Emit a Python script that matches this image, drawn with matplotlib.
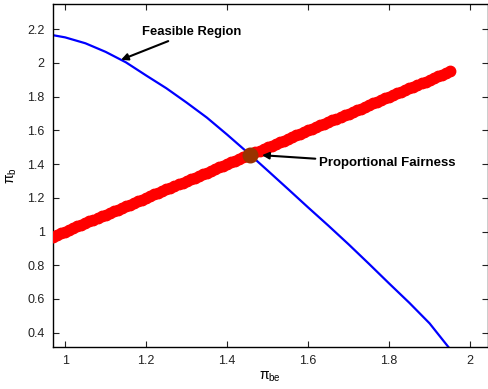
import matplotlib
matplotlib.use('Agg')
import matplotlib.pyplot as plt

plt.rcParams['font.family'] = ['Liberation Sans', 'DejaVu Sans']
plt.rcParams['mathtext.fontset'] = 'custom'
plt.rcParams['mathtext.rm'] = 'Liberation Sans'
plt.rcParams['mathtext.it'] = 'Liberation Sans'

# feasible region boundary
fr_x = [0.970, 1.000, 1.050, 1.100, 1.150, 1.200, 1.250, 1.300, 1.350,
        1.400, 1.450, 1.500, 1.550, 1.600, 1.650, 1.700, 1.750, 1.800,
        1.850, 1.900, 1.947]
fr_y = [2.165, 2.152, 2.117, 2.066, 2.004, 1.926, 1.850, 1.765, 1.676,
        1.575, 1.470, 1.362, 1.253, 1.143, 1.035, 0.924, 0.809, 0.692,
        0.577, 0.455, 0.313]

# equal-share line (dense markers)
eq_x = [0.97, 0.98, 0.99, 1.00, 1.01, 1.02, 1.03, 1.04, 1.05, 1.06,
        1.07, 1.08, 1.09, 1.10, 1.11, 1.12, 1.13, 1.14, 1.15, 1.16,
        1.17, 1.18, 1.19, 1.20, 1.21, 1.22, 1.23, 1.24, 1.25, 1.26,
        1.27, 1.28, 1.29, 1.30, 1.31, 1.32, 1.33, 1.34, 1.35, 1.36,
        1.37, 1.38, 1.39, 1.40, 1.41, 1.42, 1.43, 1.44, 1.45, 1.46,
        1.47, 1.48, 1.49, 1.50, 1.51, 1.52, 1.53, 1.54, 1.55, 1.56,
        1.57, 1.58, 1.59, 1.60, 1.61, 1.62, 1.63, 1.64, 1.65, 1.66,
        1.67, 1.68, 1.69, 1.70, 1.71, 1.72, 1.73, 1.74, 1.75, 1.76,
        1.77, 1.78, 1.79, 1.80, 1.81, 1.82, 1.83, 1.84, 1.85, 1.86,
        1.87, 1.88, 1.89, 1.90, 1.91, 1.92, 1.93, 1.94, 1.95]
eq_y = list(eq_x)

pf_x, pf_y = 1.4556, 1.453

xticks = [1, 1.2, 1.4, 1.6, 1.8, 2]
yticks = [0.4, 0.6, 0.8, 1, 1.2, 1.4, 1.6, 1.8, 2, 2.2]

fig = plt.figure(figsize=(4.88, 3.89), dpi=100)
ax = fig.add_axes([0.1086, 0.108, 0.8904, 0.8817])

ax.plot(fr_x, fr_y, color='#0000ff', lw=1.6, zorder=2)
ax.plot(eq_x, eq_y, color='red', lw=2, marker='o', ms=7.5,
        markerfacecolor='red', markeredgecolor='red', zorder=3)
ax.plot([pf_x], [pf_y], marker='o', ms=10.5, color='#993300', zorder=4)

ax.annotate('Feasible Region', xy=(1.138, 2.019), xytext=(1.190, 2.185),
            fontsize=9.4, fontweight='bold', va='center', ha='left',
            arrowprops=dict(arrowstyle='-|>', color='black', lw=1.5,
                            mutation_scale=10, shrinkA=1, shrinkB=0))
ax.annotate('Proportional Fairness', xy=(1.486, 1.453), xytext=(1.628, 1.404),
            fontsize=9.5, fontweight='bold', va='center', ha='left',
            arrowprops=dict(arrowstyle='-|>', color='black', lw=1.5,
                            mutation_scale=10, shrinkA=1, shrinkB=0))

ax.set_xlim(0.97, 2.043)
ax.set_ylim(0.315, 2.35)
ax.set_xticks(xticks)
ax.set_xticklabels(['1', '1.2', '1.4', '1.6', '1.8', '2'])
ax.set_yticks(yticks)
ax.set_yticklabels(['0.4', '0.6', '0.8', '1', '1.2', '1.4', '1.6', '1.8', '2', '2.2'])
ax.tick_params(direction='in', top=True, right=True, labelsize=9,
               length=4, width=0.8, colors='#222222', pad=6)
for s in ax.spines.values():
    s.set_linewidth(1.0)

ax.set_xlabel(r'$\pi_{\mathrm{be}}$', fontsize=10, labelpad=2)
ax.set_ylabel(r'$\pi_{\mathrm{b}}$', fontsize=10, labelpad=6)

fig.savefig('out.png', dpi=100)
